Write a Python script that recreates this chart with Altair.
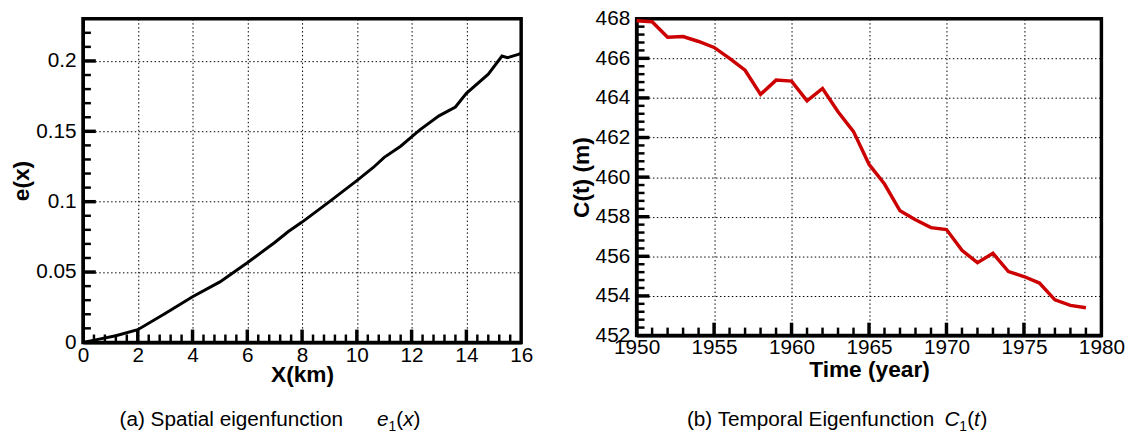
import altair as alt
import pandas as pd

# ---------------- data ----------------
x_km = [0, 0.5, 1.2, 2, 3, 4, 5, 6, 7, 7.5, 8, 9, 10, 10.6, 11, 11.6, 12, 12.3,
        13, 13.6, 14, 14.8, 15.3, 15.5, 15.9, 16]
e_vals = [0, 0.002, 0.0047, 0.009, 0.0205, 0.0324, 0.043, 0.0566, 0.071, 0.0788,
          0.0855, 0.1, 0.115, 0.1243, 0.1315, 0.1394, 0.146, 0.151,
          0.161, 0.1673, 0.177, 0.1906, 0.2035, 0.2023, 0.2047, 0.2055]

years = list(range(1950, 1980))
c_vals = [467.9, 467.85, 467.07, 467.1, 466.85, 466.55, 466.0, 465.4, 464.18, 464.9,
          464.85, 463.85, 464.48, 463.3, 462.3, 460.65, 459.65, 458.3, 457.85, 457.45,
          457.35, 456.3, 455.68, 456.15, 455.23, 454.98, 454.65, 453.8, 453.52, 453.4]

x_major = [0, 2, 4, 6, 8, 10, 12, 14, 16]
e_major = [0, 0.05, 0.1, 0.15, 0.2]
yr_major = [1950, 1955, 1960, 1965, 1970, 1975, 1980]
c_major = [452, 454, 456, 458, 460, 462, 464, 466, 468]

x_minor = [round(i * 0.4, 2) for i in range(1, 40) if i % 5 != 0]
e_minor = [round(i * 0.01, 3) for i in range(1, 23) if i % 5 != 0]
yr_minor = [y for y in range(1951, 1980) if y % 5 != 0]
c_minor = [round(452 + i * 0.4, 2) for i in range(1, 40) if i % 5 != 0]

FONT = "Liberation Sans"
W1, H1 = 444, 328
W2, H2 = 471, 321


def axis(values, title, orient, fmt, tx, ty, lpad):
    return alt.Axis(values=values, title=title, format=fmt, grid=True, ticks=False,
                    domain=True, domainColor="black", domainWidth=3,
                    gridColor="black", gridDash=[1.5, 2.5], gridWidth=1, gridOpacity=1,
                    labelFont=FONT, labelFontSize=21, labelColor="black",
                    labelPadding=lpad, labelOverlap=False, labelFlush=False, labelBound=False,
                    titleFont=FONT, titleFontSize=23, titleFontWeight="bold",
                    titleColor="black", titleX=tx, titleY=ty, titleBaseline="alphabetic",
                    titleAlign="center", titleAngle=(270 if orient == "left" else 0))


def tick_layers(xf, yf, xscale, yscale, H, xmaj, xmin, ymaj, ymin):
    layers = []
    for vals, ln, sw in [(xmaj, 13, 3.5), (xmin, 8, 2.5)]:
        d = alt.Data(values=[{xf: v} for v in vals])
        layers.append(alt.Chart(d).mark_rule(color="black", strokeWidth=sw).encode(
            x=alt.X(f"{xf}:Q", scale=xscale), y=alt.value(H), y2=alt.value(H - ln)))
    for vals, ln, sw in [(ymaj, 13, 3.5), (ymin, 8, 2.5)]:
        d = alt.Data(values=[{yf: v} for v in vals])
        layers.append(alt.Chart(d).mark_rule(color="black", strokeWidth=sw).encode(
            y=alt.Y(f"{yf}:Q", scale=yscale), x=alt.value(0), x2=alt.value(ln)))
    return layers


def txt(s, x, y, size=21, style="normal"):
    return alt.Chart(alt.Data(values=[{"k": 0}])).mark_text(
        align="left", baseline="alphabetic", font=FONT, fontSize=size,
        fontStyle=style, color="black").encode(
        x=alt.value(x), y=alt.value(y), text=alt.value(s))


# ---------------- left panel ----------------
xs1 = alt.Scale(domain=[0, 16], nice=False, zero=False)
ys1 = alt.Scale(domain=[0, 0.23], nice=False, zero=False)
df_e = pd.DataFrame({"x": x_km, "e": e_vals})
line1 = alt.Chart(df_e).mark_line(color="black", strokeWidth=3).encode(
    x=alt.X("x:Q", scale=xs1, axis=axis(x_major, "X(km)", "bottom", "~g", W1 / 2, 40, 2)),
    y=alt.Y("e:Q", scale=ys1, axis=axis(e_major, "e(x)", "left", "~g", -55, H1 / 2, 7)),
)
cap_y = 413
left_caption = [
    txt("(a) Spatial eigenfunction", 37, cap_y),
    txt("e", 298, cap_y, style="italic"),
    txt("1", 309.7, cap_y + 5, size=14),
    txt("(", 317.5, cap_y),
    txt("x", 324.5, cap_y, style="italic"),
    txt(")", 335, cap_y),
]
left = alt.layer(line1, *tick_layers("x", "e", xs1, ys1, H1,
                                     x_major[1:-1], x_minor, e_major[1:], e_minor),
                 *left_caption).properties(width=W1, height=H1)

# ---------------- right panel ----------------
xs2 = alt.Scale(domain=[1950, 1980], nice=False, zero=False)
ys2 = alt.Scale(domain=[452, 468], nice=False, zero=False)
df_c = pd.DataFrame({"t": years, "c": c_vals})
line2 = alt.Chart(df_c).mark_line(color="#cc0000", strokeWidth=3.5).encode(
    x=alt.X("t:Q", scale=xs2, axis=axis(yr_major, "Time (year)", "bottom", "d", W2 / 2, 42, 1)),
    y=alt.Y("c:Q", scale=ys2, axis=axis(c_major, "C(t) (m)", "left", "d", -49, H2 / 2, 7)),
)
right_caption = [
    txt("(b) Temporal Eigenfunction", 51, cap_y),
    txt("C", 312, cap_y, style="italic"),
    txt("1", 327, cap_y + 5, size=14),
    txt("(", 335, cap_y),
    txt("t", 342, cap_y, style="italic"),
    txt(")", 348.5, cap_y),
]
right = alt.layer(line2, *tick_layers("t", "c", xs2, ys2, H2,
                                      yr_major[1:-1], yr_minor, c_major[1:-1], c_minor),
                  *right_caption).properties(width=W2, height=H2)

chart = alt.hconcat(left, right, spacing=117, bounds="flush").properties(
    padding={"left": 1, "top": -5, "right": 5, "bottom": 0}
).configure(background="white").configure_view(stroke="black", strokeWidth=3.5)

chart.save("out.html", embed_options={"renderer": "svg", "actions": False})
